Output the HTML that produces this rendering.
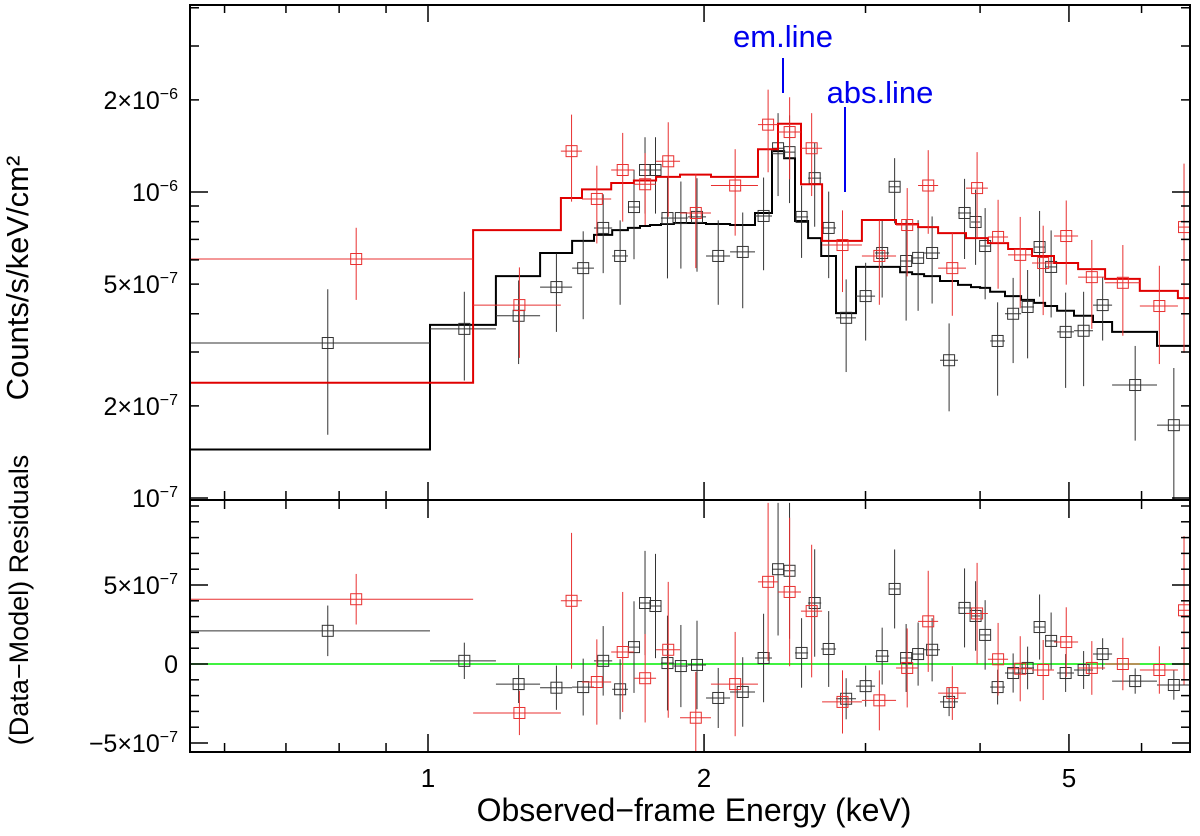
<!DOCTYPE html>
<html><head><meta charset="utf-8">
<style>
html,body{margin:0;padding:0;background:#fff;}
svg{display:block;font-family:"Liberation Sans",Helvetica,Arial,sans-serif;}
</style></head>
<body>
<svg id="chart" width="1200" height="836" viewBox="0 0 1200 836" xmlns="http://www.w3.org/2000/svg">
<defs>
<clipPath id="clipTop"><rect x="190" y="5" width="1000" height="495"/></clipPath>
<clipPath id="clipBot"><rect x="190" y="500" width="1000" height="252"/></clipPath>
</defs>
<g id="marks"></g>
<rect x="190" y="5" width="1000" height="495" fill="none" stroke="#000" stroke-width="2"/>
<rect x="190" y="500" width="1000" height="252" fill="none" stroke="#000" stroke-width="2"/>
<g id="ticks"></g>
<text x="0" y="0" transform="translate(28,278) rotate(-90)" text-anchor="middle" font-size="31">Counts/s/keV/cm²</text>
<text x="0" y="0" transform="translate(28,600) rotate(-90)" text-anchor="middle" font-size="27">(Data−Model) Residuals</text>
<text x="694" y="821" text-anchor="middle" font-size="32">Observed−frame Energy (keV)</text>
<text x="783" y="47" text-anchor="middle" font-size="31" fill="#0000ee">em.line</text>
<line x1="783" y1="58" x2="783" y2="93" stroke="#0000ee" stroke-width="2"/>
<text x="880" y="103" text-anchor="middle" font-size="31" fill="#0000ee">abs.line</text>
<line x1="845" y1="107" x2="845" y2="192" stroke="#0000ee" stroke-width="2"/>
</svg>
<script>
// Black data set (flux and model in units of 1e-7 counts/s/keV/cm2)
const blackEdges = [0.550,1.005,1.186,1.325,1.436,1.517,1.588,1.652,1.703,1.746,1.795,1.854,1.920,2.010,2.135,2.273,2.372,2.445,2.513,2.597,2.684,2.786,2.929,3.073,3.183,3.272,3.372,3.475,3.617,3.784,3.910,4.000,4.102,4.258,4.434,4.580,4.709,4.853,5.064,5.311,5.572,6.237,6.776];
const blackFlux = [3.21,3.57,3.94,4.89,5.64,7.63,6.18,8.93,11.8,11.8,8.22,8.22,8.29,6.18,6.37,8.35,13.9,13.5,8.29,11.1,7.63,3.88,4.57,6.32,10.4,5.95,6.09,6.32,2.82,8.54,7.98,6.66,3.26,4.00,4.21,6.61,5.69,3.49,3.52,4.27,2.34,1.73];
const blackErr = [1.6,1.15,1.2,1.4,1.8,2.2,1.9,2.9,3.3,3.3,3.0,2.6,2.8,1.9,2.2,2.8,4.2,4.3,2.2,3.4,2.4,1.3,1.3,1.8,2.5,2.15,2.0,2.0,0.9,2.5,2.2,2.2,1.1,1.24,1.35,2.06,1.8,1.2,1.2,1.0,0.8,0.93];
const blackModel = [1.44,3.68,5.31,6.32,6.92,7.24,7.51,7.63,7.74,7.8,7.86,7.92,7.92,7.86,7.8,8.54,13.6,12.9,8.04,7.07,6.18,4.02,5.69,5.69,5.69,5.47,5.39,5.31,5.12,4.97,4.89,4.86,4.72,4.57,4.44,4.34,4.24,4.09,3.94,3.76,3.49,3.14];
const blackResid = [2.1,0.2,-1.27,-1.5,-1.46,0.2,-1.6,1.07,3.86,3.67,0.06,-0.13,-0.06,-2.15,-1.77,0.38,6.0,5.9,0.7,3.86,0.95,-2.2,-1.4,0.5,4.75,0.38,0.63,0.9,-2.4,3.55,3.04,1.84,-1.46,-0.57,-0.25,2.34,1.46,-0.57,-0.38,0.63,-1.08,-1.33];
// Red data set
const redEdges = [0.550,1.120,1.396,1.472,1.584,1.677,1.773,1.883,2.035,2.290,2.408,2.551,2.690,2.973,3.239,3.423,3.600,3.861,4.079,4.291,4.557,4.816,5.116,5.475,5.974,6.574,6.776];
const redFlux = [6.04,4.27,13.6,9.49,11.8,10.6,12.6,8.54,10.5,16.6,15.7,13.9,6.71,6.18,7.8,10.5,5.64,10.3,7.13,6.23,5.86,7.18,5.27,5.05,4.24,7.68];
const redErr = [1.6,1.4,4.3,2.7,3.8,2.8,4.3,2.9,3.3,5.0,4.7,4.2,2.0,1.9,2.5,3.2,1.7,3.2,2.3,2.06,1.9,2.2,1.7,1.66,1.5,4.7];
const redModel = [2.38,7.51,9.56,10.2,10.7,10.9,11.2,11.4,11.2,13.8,16.7,10.6,6.92,8.1,7.86,7.68,7.34,7.07,6.81,6.51,6.18,5.86,5.60,5.20,4.75,4.5];
const redResid = [4.1,-3.1,4.0,-1.14,0.76,-0.9,0.9,-3.4,-1.27,5.2,4.56,3.35,-2.4,-2.3,-0.25,2.7,-1.84,3.2,0.3,-0.3,-0.38,1.39,-0.25,0,-0.38,3.4];
// Axis ticks
const xMajorTicks = [1,2,5];
const xMajorLabels = ["1","2","5"];
const xMinorTicks = [0.6,0.7,0.8,0.9,3,4,6];
const yTopMajor = [1,10];
const yTopMinor = [2,3,4,5,6,7,8,9,20,30,40];
const yTopLabelVals = [1,2,5,10,20];
const yTopLabelMant = ["","2×","5×","","2×"];
const yTopLabelExp = ["−7","−7","−7","−6","−6"];
const yBotMajor = [-5,0,5];
const yBotMinor = [-4,-3,-2,-1,1,2,3,4,6,7,8,9,10];

const NS = "http://www.w3.org/2000/svg";
function xS(e){ return 428 + 917*Math.log10(e); }
function yT(f){ return 192 - 306*(Math.log10(f)-1); }
function yB(r){ return 664 - 15.8*r; }
function mk(tag, attrs, parent){
  const el = document.createElementNS(NS, tag);
  for (const k in attrs) el.setAttribute(k, attrs[k]);
  parent.appendChild(el);
  return el;
}
const marks = document.getElementById('marks');
const gTop = mk('g', {'clip-path':'url(#clipTop)'}, marks);


const gBot = mk('g', {'clip-path':'url(#clipBot)'}, marks);



const zl = mk('line', {x1:190, x2:1190, y1:yB(0), y2:yB(0), stroke:'#00ee00', 'stroke-width':1.5}, gBot);



function drawSeries(edges, flux, err, model, resid, color, dataColor, name){
  let d = '';
  for (let i=0;i<model.length;i++){
    const x0 = xS(edges[i]), x1 = xS(edges[i+1]), y = yT(model[i]);
    d += (i===0 ? 'M' : 'L') + x0.toFixed(1) + ',' + y.toFixed(1) + 'L' + x1.toFixed(1) + ',' + y.toFixed(1);
  }
  const ml = mk('path', {d:d, fill:'none', stroke:color, 'stroke-width':2}, gTop);
  
  
  for (let i=0;i<flux.length;i++){
    const e = (edges[i]+edges[i+1])/2;
    const cx = xS(e), xl = xS(edges[i]), xr = xS(edges[i+1]);
    const gp = mk('g', {stroke:dataColor, 'stroke-width':1, fill:'none'}, gTop);
    
    
    const cy = yT(flux[i]);
    const lo = Math.max(flux[i]-err[i], 0.5);
    mk('line', {x1:xl, x2:xr, y1:cy, y2:cy}, gp);
    mk('line', {x1:cx, x2:cx, y1:yT(flux[i]+err[i]), y2:yT(lo)}, gp);
    mk('rect', {x:cx-5.5, y:cy-5.5, width:11, height:11}, gp);
    const gr = mk('g', {stroke:dataColor, 'stroke-width':1, fill:'none'}, gBot);
    
    
    const ry = yB(resid[i]);
    mk('line', {x1:xl, x2:xr, y1:ry, y2:ry}, gr);
    mk('line', {x1:cx, x2:cx, y1:yB(resid[i]+err[i]), y2:yB(resid[i]-err[i])}, gr);
    mk('rect', {x:cx-5.5, y:ry-5.5, width:11, height:11}, gr);
  }
}
drawSeries(blackEdges, blackFlux, blackErr, blackModel, blackResid, '#000', '#333', 'black-series');
drawSeries(redEdges, redFlux, redErr, redModel, redResid, '#e00000', '#e83030', 'red-series');

const gt = document.getElementById('ticks');
function tick(x1,y1,x2,y2,name){
  const t = mk('line', {x1:x1,y1:y1,x2:x2,y2:y2,stroke:'#000','stroke-width':1.5}, gt);
  
  
}
xMajorTicks.forEach((v,i)=>{
  const x = xS(v);
  tick(x,5,x,22,'x-major-tick'); tick(x,500,x,482,'x-major-tick');
  tick(x,500,x,518,'x-major-tick'); tick(x,752,x,734,'x-major-tick');
  const t = mk('text', {x:x, y:787, 'text-anchor':'middle', 'font-size':26}, gt);
  t.textContent = xMajorLabels[i];
  
  
});
xMinorTicks.forEach(v=>{
  const x = xS(v);
  tick(x,5,x,13,'x-minor-tick'); tick(x,500,x,491,'x-minor-tick');
  tick(x,500,x,509,'x-minor-tick'); tick(x,752,x,743,'x-minor-tick');
});
yTopMajor.forEach(v=>{ const y=yT(v); tick(190,y,208,y,'y-major-tick'); tick(1190,y,1172,y,'y-major-tick'); });
yTopMinor.forEach(v=>{ const y=yT(v); tick(190,y,199,y,'y-minor-tick'); tick(1190,y,1181,y,'y-minor-tick'); });
yTopLabelVals.forEach((v,i)=>{
  const y = yT(v);
  const t = mk('text', {x:178, y:y+9, 'text-anchor':'end', 'font-size':25}, gt);
  
  
  const a = mk('tspan', {}, t); a.textContent = yTopLabelMant[i] + '10';
  const b = mk('tspan', {dy:-10, 'font-size':16}, t); b.textContent = yTopLabelExp[i];
});
yBotMajor.forEach(v=>{ const y=yB(v); tick(190,y,208,y,'residual-major-tick'); tick(1190,y,1172,y,'residual-major-tick'); });
yBotMinor.forEach(v=>{ const y=yB(v); if(y>501&&y<751){ tick(190,y,199,y,'residual-minor-tick'); tick(1190,y,1181,y,'residual-minor-tick'); }});
const botLabels = [[-5,'−5×10','−7'],[0,'0',''],[5,'5×10','−7']];
botLabels.forEach(l=>{
  const y = yB(l[0]);
  const t = mk('text', {x:178, y:y+9, 'text-anchor':'end', 'font-size':25}, gt);
  
  
  const a = mk('tspan', {}, t); a.textContent = l[1];
  if (l[2]) { const b = mk('tspan', {dy:-10, 'font-size':16}, t); b.textContent = l[2]; }
});
</script>
</body></html>
